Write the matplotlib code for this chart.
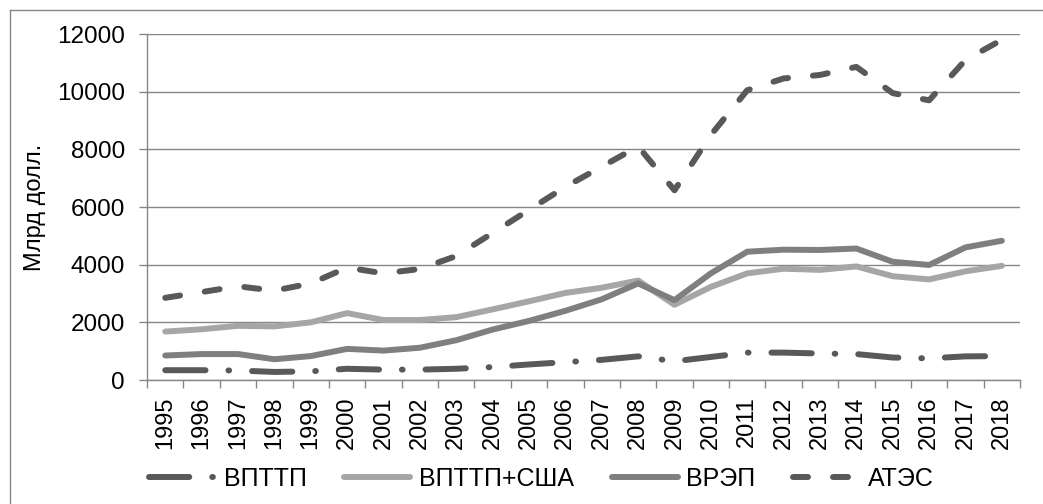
import matplotlib
matplotlib.use('Agg')
import matplotlib.pyplot as plt
from matplotlib.lines import Line2D

plt.rcParams['font.family'] = ['Liberation Sans', 'DejaVu Sans']
plt.rcParams['lines.scale_dashes'] = False

years = [str(y) for y in range(1995, 2019)]

# Млрд долл.
vpttp = [340, 340, 330, 280, 300, 390, 360, 360, 390, 450, 540, 620,
         700, 820, 650, 800, 950, 950, 920, 900, 780, 750, 820, 830]
vpttp_usa = [1680, 1760, 1880, 1860, 2000, 2320, 2080, 2080, 2180, 2450, 2730, 3020,
             3200, 3450, 2610, 3230, 3700, 3860, 3820, 3940, 3600, 3490, 3770, 3960]
vrep = [850, 900, 900, 720, 830, 1080, 1020, 1120, 1380, 1750, 2050, 2400,
        2800, 3350, 2770, 3700, 4450, 4520, 4510, 4560, 4100, 3990, 4600, 4830]
ates = [2850, 3050, 3250, 3100, 3350, 3900, 3700, 3850, 4300, 5100, 5900, 6700,
        7400, 8100, 6580, 8500, 10050, 10460, 10580, 10860, 9950, 9700, 11100, 11800]

fig = plt.figure(figsize=(10.43, 5.04), dpi=100)
ax = fig.add_axes([0.141, 0.246, 0.837, 0.6865])

x = list(range(len(years)))
lw = 4.3
ax.plot(x, vpttp, color='#595959', lw=lw, dashes=(29, 16.5, 0.5, 16.5),
        dash_capstyle='round', label='ВПТТП')
ax.plot(x, vpttp_usa, color='#a6a6a6', lw=lw, solid_capstyle='round', label='ВПТТП+США')
ax.plot(x, vrep, color='#7f7f7f', lw=lw, solid_capstyle='round', label='ВРЭП')
ax.plot(x, ates, color='#595959', lw=lw, dashes=(10.8, 18),
        dash_capstyle='round', label='АТЭС')

ax.set_xlim(-0.5, len(years) - 0.5)
ax.set_ylim(0, 12000)
ax.set_yticks(range(0, 12001, 2000))
ax.set_xticks(x)
ax.set_xticklabels(years, rotation=90, fontsize=17)
ax.set_xticks([i - 0.5 for i in range(len(years) + 1)], minor=True)
ax.tick_params(axis='x', which='major', length=0, pad=12)
ax.tick_params(axis='x', which='minor', length=6, color='#868686', width=1)
ax.tick_params(axis='y', length=6, color='#868686', width=1, labelsize=17.5, pad=10)

ax.grid(axis='y', color='#868686', lw=1)
ax.set_axisbelow(True)
for s in ['top', 'right']:
    ax.spines[s].set_visible(False)
for s in ['left', 'bottom']:
    ax.spines[s].set_color('#868686')
    ax.spines[s].set_linewidth(1)

ax.set_ylabel('Млрд долл.', fontsize=17, labelpad=8)

fig.legend(loc='center', bbox_to_anchor=(0.519, 0.05), ncol=4, frameon=False,
           fontsize=18, handlelength=2.64, handletextpad=0.35, columnspacing=1.5,
           borderaxespad=0)

# chart area border
fig.add_artist(Line2D([9.5 / 1043, 9.5 / 1043], [0, 1 - 9.5 / 504], color='#868686', lw=1,
                      transform=fig.transFigure))
fig.add_artist(Line2D([9.5 / 1043, 1], [1 - 9.5 / 504, 1 - 9.5 / 504], color='#868686', lw=1,
                      transform=fig.transFigure))

fig.savefig('out.png', dpi=100)
